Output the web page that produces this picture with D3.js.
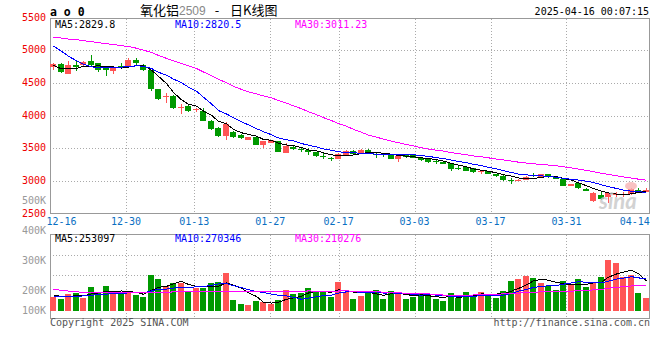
<!DOCTYPE html>
<html><head><meta charset="utf-8">
<script src="https://cdn.jsdelivr.net/npm/d3@7"></script>
<style>body{margin:0;background:#fff}svg{display:block}</style>
</head><body><svg id="c" width="660" height="360"></svg>
<script>
// ---------- data ----------
const dates = ["12-16","12-17","12-18","12-19","12-20","12-23","12-24","12-25","12-26","12-27","12-30","12-31",
"01-02","01-03","01-06","01-07","01-08","01-09","01-10","01-13","01-14","01-15","01-16","01-17","01-20","01-21","01-22","01-23","01-24","01-27",
"02-05","02-06","02-07","02-10","02-11","02-12","02-13","02-14","02-17","02-18","02-19","02-20","02-21","02-24","02-25","02-26","02-27","02-28",
"03-03","03-04","03-05","03-06","03-07","03-10","03-11","03-12","03-13","03-14","03-17","03-18","03-19","03-20","03-21","03-24","03-25","03-26","03-27","03-28","03-31",
"04-01","04-02","04-03","04-07","04-08","04-09","04-10","04-11","04-14","04-15","04-16"];
const open  = [4750,4790,4640,4770,4775,4830,4800,4735,4685,4760,4740,4850,4770,4695,4400,4280,4300,4120,4140,4080,
4065,3920,3810,3680,3745,3705,3630,3670,3555,3585,3605,3430,3525,3490,3465,3440,3380,3345,3340,3400,
3460,3415,3475,3415,3410,3405,3335,3390,3395,3355,3330,3300,3295,3270,3200,3205,3195,3130,3150,3105,
3080,3020,3000,3015,3085,3065,3105,3065,3025,2925,2960,2880,2695,2780,2760,2790,2795,2805,2865,2835];
const high  = [4800,4800,4840,4830,4835,4920,4805,4740,4740,4800,4880,4880,4790,4700,4405,4350,4320,4170,4155,4120,
4120,3925,3830,3900,3770,3710,3670,3690,3615,3630,3610,3580,3545,3510,3500,3445,3425,3370,3420,3465,
3465,3480,3480,3435,3430,3410,3385,3400,3400,3365,3335,3320,3300,3275,3230,3210,3200,3165,3155,3110,
3085,3040,3025,3070,3125,3110,3110,3070,3030,2955,2980,2890,2830,2830,2815,2835,2830,2890,2890,2890];
const low   = [4690,4650,4630,4680,4760,4765,4665,4605,4640,4715,4735,4760,4680,4370,4240,4190,4100,4025,4055,4060,
3915,3780,3665,3630,3650,3645,3625,3550,3505,3575,3435,3420,3465,3440,3400,3365,3330,3310,3330,3395,
3410,3410,3410,3350,3370,3330,3295,3355,3350,3300,3280,3255,3255,3150,3165,3145,3125,3100,3105,3065,
3000,2950,2990,3010,3055,3060,3050,3025,2915,2920,2870,2840,2680,2705,2655,2755,2760,2790,2825,2830];
const close = [4790,4660,4780,4735,4815,4770,4700,4700,4735,4725,4850,4800,4700,4400,4245,4300,4120,4135,4065,4100,
3920,3795,3680,3870,3675,3660,3665,3555,3605,3620,3440,3530,3490,3465,3440,3375,3370,3335,3410,3450,
3415,3475,3415,3405,3400,3340,3380,3365,3355,3320,3285,3290,3260,3185,3190,3150,3130,3155,3110,3070,
3010,3010,3020,3065,3075,3105,3055,3030,2920,2950,2885,2845,2815,2715,2810,2800,2805,2870,2835,2860];
const volume = [121,102,144,155,113,206,150,211,141,141,169,135,121,305,271,211,239,234,169,192,
192,239,248,324,93,59,51,87,79,59,93,178,144,150,197,163,163,121,248,163,
102,129,150,178,102,169,150,102,121,144,129,102,85,155,107,163,135,163,144,113,
169,254,271,299,282,239,211,178,254,220,271,206,234,290,431,403,290,305,155,113].map(v=>v*1000);
// moving-average values at the left edge (need history before the window)
const ma5Head  = [4765,4715,4715,4720];
const ma10Head = [5061,4984,4907,4838,4784,4745,4733,4730,4730];
const ma30Head = [5200,5185,5170,5160,5145,5130,5115,5100,5085,5070,5055,5030,5000,4965,4920,4875,4835,4795,4760,4720,4665,4610,4555,4500,4445,4400,4360,4330,4300];
const vma5Head  = [130,125,125,128].map(v=>v*1000);
const vma10Head = [121,121,122,123,128,134,138,143,146].map(v=>v*1000);
const vma30Head = [182,176,168,162,158,156,155,155,155,155,156,156,157,158,159,160,161,162,163,163,163,164,164,165,165,165,165,165,165].map(v=>v*1000);
const priceTicks = [2500,3000,3500,4000,4500,5000,5500];
const volTickLabels = ["500K","400K","300K","200K","100K"];
const volTickValues = [500000,400000,300000,200000,100000];
const dateTicks = ["12-16","12-30","01-13","01-27","02-17","03-03","03-17","03-31","04-14"];
const maText  = ["MA5:2829.8","MA10:2820.5","MA30:3011.23"];
const vmaText = ["MA5:253097","MA10:270346","MA30:210276"];

// ---------- layout ----------
const L=50,R=650,mainTop=18.5,mainBot=213.5,volTop=234.5,volBot=318.5;
const RED="#ff5555",GREEN="#009900",BLK="#000",BLUE="#0000ff",MAG="#ff00ff";
const mono='"DejaVu Sans Mono", monospace';
const svg=d3.select("#c");
const n=dates.length;
const xb=d3.scaleBand().domain(d3.range(n)).range([L,R]);
const xt=d3.scaleLinear().domain([0,n-1]).range([L,R]);
const y=d3.scaleLinear().domain([2500,5500]).range([213.5,17.5]);
const yv=d3.scaleLinear().domain([0,643000]).range([311,235]);
const yvLab=d3.scaleLinear().domain([100000,200000,500000]).range([314,294.3,204]);
const bx=i=>Math.round(xb(i));
const cx=i=>bx(i)+3;

function ma(arr,len,head){return arr.map((v,i)=>i<head.length?head[i]:d3.mean(arr.slice(i-len+1,i+1)));}

// ---------- grid ----------
const g=svg.append("g").attr("shape-rendering","crispEdges");
priceTicks.filter(p=>p>2500&&p<5500).forEach(p=>{
  g.append("line").attr("x1",L).attr("x2",R).attr("y1",Math.round(y(p))+0.5).attr("y2",Math.round(y(p))+0.5)
   .attr("stroke","#aaa").attr("stroke-dasharray","1,2");
});
[255.5,275.5].forEach(yy=>{
  g.append("line").attr("x1",L).attr("x2",R).attr("y1",yy).attr("y2",yy).attr("stroke","#aaa").attr("stroke-dasharray","1,2");
});
dateTicks.forEach(d=>{
  const xx=Math.round(xt(dates.indexOf(d)))+0.5;
  if(xx<=L+2||xx>=R-20) return;
  [[mainTop,mainBot],[volTop,volBot]].forEach(([a,b])=>{
    g.append("line").attr("x1",xx).attr("x2",xx).attr("y1",a).attr("y2",b).attr("stroke","#aaa").attr("stroke-dasharray","1,2");
  });
});
g.append("rect").attr("x",L+0.5).attr("y",mainTop).attr("width",R-L-1).attr("height",mainBot-mainTop).attr("fill","none").attr("stroke","#999");
g.append("rect").attr("x",L+0.5).attr("y",volTop).attr("width",R-L-1).attr("height",volBot-volTop).attr("fill","none").attr("stroke","#999");

// ---------- candles ----------
const cg=svg.append("g").attr("shape-rendering","crispEdges");
d3.range(n).forEach(i=>{
  const up=close[i]>=open[i], col=up?RED:GREEN;
  cg.append("line").attr("x1",cx(i)+0.5).attr("x2",cx(i)+0.5).attr("y1",y(high[i])).attr("y2",y(low[i])).attr("stroke",col);
  const t=y(Math.max(open[i],close[i])), b=y(Math.min(open[i],close[i]));
  cg.append("rect").attr("x",bx(i)).attr("y",t).attr("width",6).attr("height",Math.max(1,b-t)).attr("fill",col);
});
// ---------- MA lines ----------
const line=d3.line().x((d,i)=>cx(i)+0.5).y(d=>y(d));
[[ma(close,5,ma5Head),BLK],[ma(close,10,ma10Head),BLUE],[ma(close,30,ma30Head),MAG]].forEach(([s,c])=>{
  svg.append("path").attr("d",line(s)).attr("fill","none").attr("stroke",c).attr("stroke-width",1).attr("shape-rendering","crispEdges");
});

// ---------- volume ----------
d3.range(n).forEach(i=>{
  const col=close[i]>=open[i]?RED:GREEN;
  cg.append("rect").attr("x",bx(i)).attr("y",yv(volume[i])).attr("width",6).attr("height",yv(0)-yv(volume[i])).attr("fill",col);
});
const vline=d3.line().x((d,i)=>cx(i)+0.5).y(d=>yv(d));
[[ma(volume,5,vma5Head),BLK],[ma(volume,10,vma10Head),BLUE],[ma(volume,30,vma30Head),MAG]].forEach(([s,c])=>{
  svg.append("path").attr("d",vline(s)).attr("fill","none").attr("stroke",c).attr("stroke-width",1).attr("shape-rendering","crispEdges");
});

// ---------- watermark ----------
svg.append("ellipse").attr("cx",631).attr("cy",186).attr("rx",6).attr("ry",4).attr("fill","#f7b3b3").attr("opacity",0.8);
svg.append("text").attr("x",599).attr("y",209).text("sina").attr("font-family","Lato, sans-serif").attr("font-style","italic")
  .attr("font-weight","bold").attr("font-size",22).attr("fill","#c8c8c8").attr("opacity",0.8);

// ---------- text ----------
const T=(x,yy,s,opt={})=>svg.append("text").attr("x",x).attr("y",yy).text(s)
  .attr("font-family",opt.ff||mono).attr("font-size",opt.fs||10).attr("fill",opt.fill||"#000")
  .attr("text-anchor",opt.anchor||"start").attr("font-weight",opt.fw||"normal");

priceTicks.forEach(p=>T(46,y(p)+3,String(p),{anchor:"end",fill:"#ee0000"}));
volTickValues.forEach((v,k)=>T(46,yvLab(v),volTickLabels[k],{anchor:"end",fill:"#999"}));
dateTicks.forEach(d=>{
  const xx=xt(dates.indexOf(d));
  // first label kept clear of the axis labels on its left
  if(xx-15<L) T(L-3.5,225,d,{anchor:"start",fill:"#0a6fc2"});
  else T(xx,225,d,{anchor:"middle",fill:"#0a6fc2"});
});
[55,175,295].forEach((x,k)=>T(x,27.5,maText[k],{fill:[BLK,BLUE,MAG][k]}));
[55,175,295].forEach((x,k)=>T(x,242,vmaText[k],{fill:[BLK,BLUE,MAG][k]}));
T(50,16,"a o 0",{fw:"bold",fs:11.5});
const title=svg.append("text").attr("x",140).attr("y",14.5).attr("font-size",13).attr("font-family",'"Noto Sans CJK SC", sans-serif');
title.append("tspan").text("氧化铝").attr("fill","#000");
title.append("tspan").text("2509").attr("fill","#888").attr("font-size",12).attr("font-family","Arial, sans-serif");
title.append("tspan").text(" - ").attr("fill","#000").attr("dx",6);
title.append("tspan").text("日K线图").attr("fill","#000").attr("dx",8);
T(649,15,"2025-04-16 00:07:15",{anchor:"end"});
T(50,326,"Copyright 2025 SINA.COM",{fill:"#555"});
T(650,326,"http://finance.sina.com.cn",{anchor:"end",fill:"#555"});
</script></body></html>
